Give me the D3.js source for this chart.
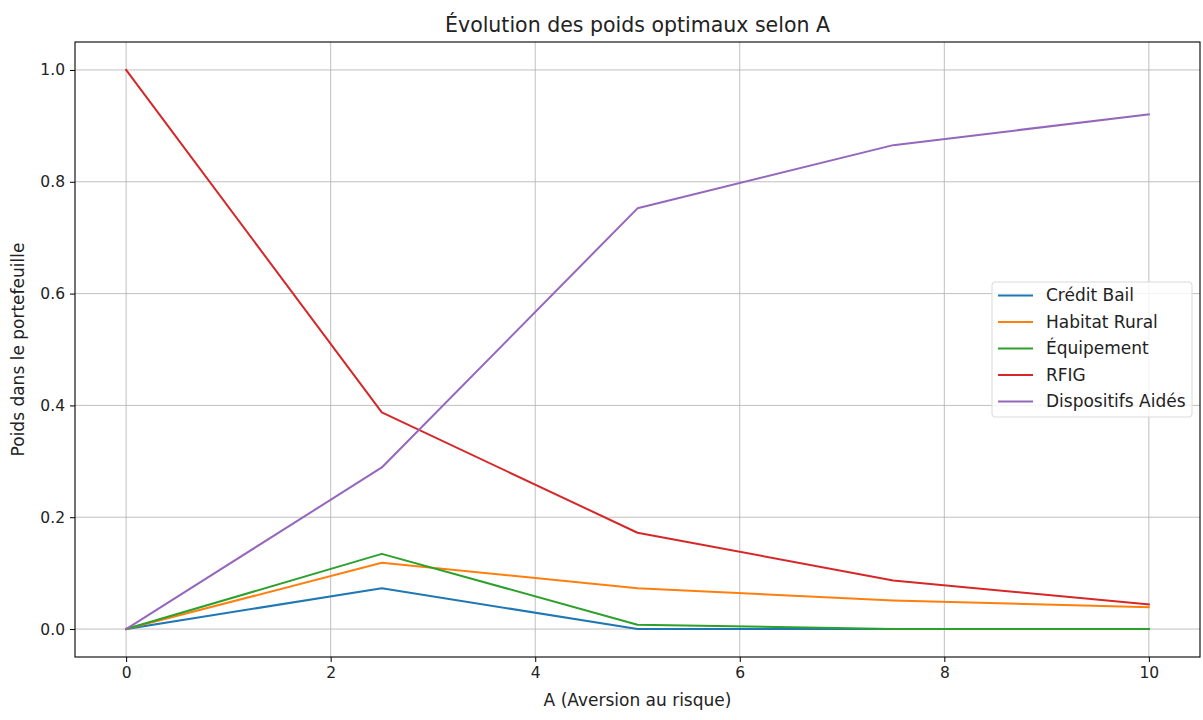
<!DOCTYPE html>
<html>
<head>
<meta charset="utf-8">
<script src="https://cdn.jsdelivr.net/npm/d3@7"></script>
<style>
  body { margin: 0; background: #fff; }
  svg { font-family: "DejaVu Sans", sans-serif; }
</style>
</head>
<body>
<div id="chart"></div>
<script>
// data
const aValues = [0, 2.5, 5, 7.5, 10];
const creditBail = [0, 0.073, 0.0, 0.0, 0.0];
const habitatRural = [0, 0.1185, 0.073, 0.051, 0.039];
const equipement = [0, 0.1345, 0.0077, 0.0, 0.0];
const rfig = [1.0, 0.3875, 0.1722, 0.087, 0.044];
const dispositifsAides = [0, 0.289, 0.7525, 0.8655, 0.9205];

const seriesNames = ["Crédit Bail", "Habitat Rural", "Équipement", "RFIG", "Dispositifs Aidés"];
const seriesColors = ["#1f77b4", "#ff7f0e", "#2ca02c", "#d62728", "#9467bd"];
const xTicks = [0, 2, 4, 6, 8, 10];
const yTicks = [0.0, 0.2, 0.4, 0.6, 0.8, 1.0];

const series = [creditBail, habitatRural, equipement, rfig, dispositifsAides].map((vals, i) => ({
    name: seriesNames[i],
    color: seriesColors[i],
    values: vals.map((v, j) => ({ a: aValues[j], w: v }))
}));

const width = 1203;
const height = 720;
const marginTop = 42;
const marginRight = 3;
const marginBottom = 63;
const marginLeft = 75;

const svg = d3.select("#chart")
    .append("svg")
    .attr("width", width)
    .attr("height", height)
    .attr("viewBox", [0, 0, width, height]);

const x = d3.scaleLinear([-0.5, 10.5], [marginLeft, width - marginRight]);
const y = d3.scaleLinear([-0.05, 1.05], [height - marginBottom, marginTop]);

// grid
svg.append("g")
    .selectAll("line")
    .data(xTicks)
    .join("line")
    .attr("x1", d => x(d)).attr("x2", d => x(d))
    .attr("y1", marginTop).attr("y2", height - marginBottom)
    .attr("stroke", "#b0b0b0")
    .attr("stroke-width", 0.8);

svg.append("g")
    .selectAll("line")
    .data(yTicks)
    .join("line")
    .attr("x1", marginLeft).attr("x2", width - marginRight)
    .attr("y1", d => y(d)).attr("y2", d => y(d))
    .attr("stroke", "#b0b0b0")
    .attr("stroke-width", 0.8);

// axes
svg.append("g")
    .attr("transform", `translate(0,${height - marginBottom})`)
    .call(d3.axisBottom(x).tickValues(xTicks).tickFormat(d3.format("d")).tickSize(5).tickPadding(5).tickSizeOuter(0))
    .call(g => g.select(".domain").remove())
    .call(g => g.selectAll("text").attr("font-size", 15.5).attr("fill", "#222").attr("font-family", "DejaVu Sans"));

svg.append("g")
    .attr("transform", `translate(${marginLeft},0)`)
    .call(d3.axisLeft(y).tickValues(yTicks).tickFormat(d3.format(".1f")).tickSize(5).tickPadding(5).tickSizeOuter(0))
    .call(g => g.select(".domain").remove())
    .call(g => g.selectAll("text").attr("font-size", 15.5).attr("fill", "#222").attr("font-family", "DejaVu Sans"));

const line = d3.line()
    .x(d => x(d.a))
    .y(d => y(d.w));

svg.append("g")
    .selectAll("path")
    .data(series)
    .join("path")
    .attr("d", d => line(d.values))
    .attr("fill", "none")
    .attr("stroke", d => d.color)
    .attr("stroke-width", 2)
    .attr("stroke-linejoin", "round")
    .attr("stroke-linecap", "square");

// frame
svg.append("rect")
    .attr("x", marginLeft).attr("y", marginTop)
    .attr("width", width - marginRight - marginLeft)
    .attr("height", height - marginBottom - marginTop)
    .attr("fill", "none")
    .attr("stroke", "#000")
    .attr("stroke-width", 1.1);

// title and labels
svg.append("text")
    .attr("x", (marginLeft + width - marginRight) / 2)
    .attr("y", 32)
    .attr("text-anchor", "middle")
    .attr("font-size", 20.5)
    .attr("fill", "#222")
    .text("Évolution des poids optimaux selon A");

svg.append("text")
    .attr("x", (marginLeft + width - marginRight) / 2)
    .attr("y", 706)
    .attr("text-anchor", "middle")
    .attr("font-size", 17)
    .attr("fill", "#222")
    .text("A (Aversion au risque)");

svg.append("text")
    .attr("transform", `translate(24,${(marginTop + height - marginBottom) / 2}) rotate(-90)`)
    .attr("text-anchor", "middle")
    .attr("font-size", 17)
    .attr("fill", "#222")
    .text("Poids dans le portefeuille");

// legend
const legend = svg.append("g").attr("transform", "translate(992,282)");
legend.append("rect")
    .attr("width", 200).attr("height", 135)
    .attr("rx", 3)
    .attr("fill", "#fff").attr("fill-opacity", 0.8)
    .attr("stroke", "#d9d9d9");

const item = legend.selectAll("g.item")
    .data(series)
    .join("g")
    .attr("class", "item")
    .attr("transform", (d, i) => `translate(0,${13.5 + i * 26.5})`);

item.append("line")
    .attr("x1", 6).attr("x2", 41)
    .attr("stroke", d => d.color)
    .attr("stroke-width", 2);

item.append("text")
    .attr("x", 54)
    .attr("dy", "0.35em")
    .attr("font-size", 17)
    .attr("fill", "#222")
    .text(d => d.name);
</script>
</body>
</html>
